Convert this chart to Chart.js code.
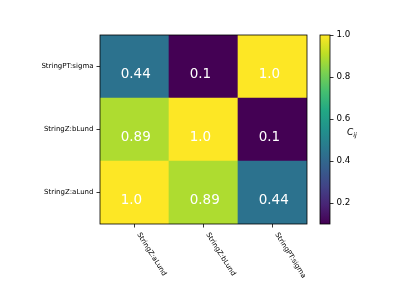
<!DOCTYPE html>
<html>
<head>
<meta charset="utf-8">
<script src="https://cdn.jsdelivr.net/npm/chart.js@4.4.1/dist/chart.umd.min.js"></script>
<style>
  html, body { margin: 0; padding: 0; background: #ffffff; }
  #wrap { position: relative; width: 399px; height: 299px; }
  canvas { position: absolute; left: 0; top: 0; }
</style>
</head>
<body>
<div id="wrap">
  <canvas id="heat" width="399" height="299"></canvas>
  <canvas id="cbar" width="399" height="299"></canvas>
</div>
<script>
// ---- data ----
const xLabels = ['StringZ:aLund', 'StringZ:bLund', 'StringPT:sigma'];
const yLabels = ['StringZ:aLund', 'StringZ:bLund', 'StringPT:sigma']; // bottom -> top
const rowALund = [1.0, 0.89, 0.44];
const rowBLund = [0.89, 1.0, 0.1];
const rowSigma = [0.44, 0.1, 1.0];
const colorbarTicks = [0.2, 0.4, 0.6, 0.8, 1.0];
const colorbarLabel = 'C';
const colorbarLabelSub = 'ij';
const vMin = 0.1;
const vMax = 1.0;

const rows = [rowALund, rowBLund, rowSigma];

// viridis colormap stops
const viridisStops = ['#440154', '#482475', '#414487', '#355f8d', '#2a788e', '#21918c',
                      '#22a884', '#44bf70', '#7ad151', '#bddf26', '#fde725'];
function hexToRgb(h) {
  return [parseInt(h.slice(1, 3), 16), parseInt(h.slice(3, 5), 16), parseInt(h.slice(5, 7), 16)];
}
function viridis(t) {
  t = Math.max(0, Math.min(1, t));
  const n = viridisStops.length - 1;
  const i = Math.min(n - 1, Math.floor(t * n));
  const f = t * n - i;
  const a = hexToRgb(viridisStops[i]), b = hexToRgb(viridisStops[i + 1]);
  const c = a.map((v, k) => Math.round(v + (b[k] - v) * f));
  return 'rgb(' + c.join(',') + ')';
}
function norm(v) { return (v - vMin) / (vMax - vMin); }
function fmt(v) { return Number.isInteger(v) ? v.toFixed(1) : String(v); }

const FONT = "'DejaVu Sans', sans-serif";

const datasets = rows.map((vals, r) => ({
  label: yLabels[r],
  data: xLabels.map(() => [r - 0.5, r + 0.5]),
  values: vals,
  backgroundColor: vals.map(v => viridis(norm(v))),
  borderWidth: 0,
  barPercentage: 1,
  categoryPercentage: 1,
  grouped: false
}));

const framePlugin = {
  id: 'frame',
  afterDatasetsDraw(chart) {
    const { ctx, chartArea: a } = chart;
    ctx.save();
    ctx.strokeStyle = '#000';
    ctx.lineWidth = 0.8;
    ctx.strokeRect(a.left, a.top, a.right - a.left, a.bottom - a.top);
    ctx.restore();
  }
};

const annotatePlugin = {
  id: 'annotate',
  afterDatasetsDraw(chart) {
    const ctx = chart.ctx;
    ctx.save();
    ctx.fillStyle = '#ffffff';
    ctx.font = '13.5px ' + FONT;
    ctx.textAlign = 'left';
    ctx.textBaseline = 'middle';
    chart.data.datasets.forEach((ds, di) => {
      const meta = chart.getDatasetMeta(di);
      meta.data.forEach((el, i) => {
        const h = Math.abs(el.base - el.y);
        const cy = (el.y + el.base) / 2;
        ctx.fillText(fmt(ds.values[i]), el.x - 0.2 * el.width, cy + 0.125 * h);
      });
    });
    ctx.restore();
  }
};

const xLabelPlugin = {
  id: 'xlabels',
  afterDraw(chart) {
    const ctx = chart.ctx;
    const xs = chart.scales.x;
    const ang = 58 * Math.PI / 180;
    ctx.save();
    ctx.fillStyle = '#000';
    ctx.font = '7px ' + FONT;
    ctx.textAlign = 'left';
    ctx.textBaseline = 'top';
    xLabels.forEach((lab, i) => {
      const x = xs.getPixelForTick(i);
      ctx.save();
      ctx.translate(x + 7, chart.chartArea.bottom + 7.5);
      ctx.rotate(ang);
      ctx.fillText(lab, 0, 0);
      ctx.restore();
    });
    ctx.restore();
  }
};

new Chart(document.getElementById('heat'), {
  type: 'bar',
  data: { labels: xLabels, datasets },
  options: {
    responsive: false,
    animation: false,
    devicePixelRatio: 1,
    layout: { padding: { left: 0, top: 35, right: 92, bottom: 0 } },
    plugins: { legend: { display: false }, tooltip: { enabled: false } },
    scales: {
      x: {
        type: 'category',
        offset: true,
        grid: { display: true, drawOnChartArea: false, offset: false, tickLength: 3.5, color: '#000', lineWidth: 0.8 },
        border: { display: false },
        ticks: { color: 'rgba(0,0,0,0)', font: { size: 7, family: FONT }, maxRotation: 0, minRotation: 0 },
        afterFit(s) { s.height = 75; }
      },
      y: {
        type: 'linear',
        min: -0.5,
        max: 2.5,
        afterBuildTicks(s) { s.ticks = yLabels.map((_, i) => ({ value: i })); },
        grid: { display: true, drawOnChartArea: false, tickLength: 3.5, color: '#000', lineWidth: 0.8 },
        border: { display: false },
        ticks: {
          color: '#000',
          padding: 3,
          font: { size: 7, family: FONT },
          callback: (v) => yLabels[v]
        },
        afterFit(s) { s.width = 100; }
      }
    }
  },
  plugins: [annotatePlugin, framePlugin, xLabelPlugin]
});

// ---- colorbar ----
const cbLabelPlugin = {
  id: 'cblabel',
  afterDraw(chart) {
    const ctx = chart.ctx;
    const a = chart.chartArea;
    const cy = (a.top + a.bottom) / 2 + 3;
    const x0 = 347;
    ctx.save();
    ctx.fillStyle = '#000';
    ctx.textAlign = 'left';
    ctx.textBaseline = 'middle';
    ctx.font = 'italic 9px ' + FONT;
    ctx.fillText(colorbarLabel, x0, cy);
    const w = ctx.measureText(colorbarLabel).width;
    ctx.font = 'italic 6.5px ' + FONT;
    ctx.fillText(colorbarLabelSub, x0 + w, cy + 3);
    ctx.restore();
  }
};

new Chart(document.getElementById('cbar'), {
  type: 'bar',
  data: {
    labels: ['cb'],
    datasets: [{
      data: [[vMin, vMax]],
      backgroundColor(c) {
        const ch = c.chart;
        const a = ch.chartArea;
        if (!a) return '#888';
        const g = ch.ctx.createLinearGradient(0, a.bottom, 0, a.top);
        viridisStops.forEach((col, i) => g.addColorStop(i / (viridisStops.length - 1), col));
        return g;
      },
      borderWidth: 0,
      barPercentage: 1,
      categoryPercentage: 1
    }]
  },
  options: {
    responsive: false,
    animation: false,
    devicePixelRatio: 1,
    layout: { padding: { left: 320, top: 35, right: 0, bottom: 75 } },
    plugins: { legend: { display: false }, tooltip: { enabled: false } },
    scales: {
      x: { display: false },
      y: {
        type: 'linear',
        position: 'right',
        min: vMin,
        max: vMax,
        afterBuildTicks(s) { s.ticks = colorbarTicks.map(v => ({ value: v })); },
        grid: { display: true, drawOnChartArea: false, tickLength: 3.5, color: '#000', lineWidth: 0.8 },
        border: { display: false },
        ticks: {
          color: '#000',
          padding: 3,
          font: { size: 8.7, family: FONT },
          callback: (v) => Number(v).toFixed(1)
        },
        afterFit(s) { s.width = 69; }
      }
    }
  },
  plugins: [framePlugin, cbLabelPlugin]
});
</script>
</body>
</html>
